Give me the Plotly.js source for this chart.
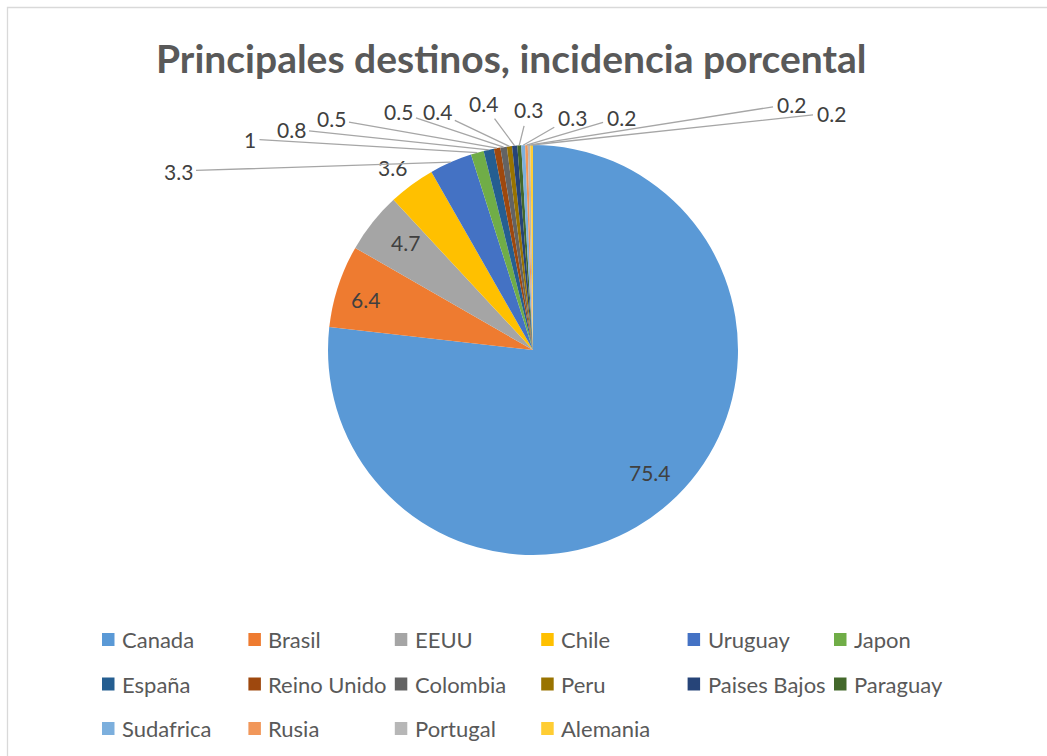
<!DOCTYPE html>
<html>
<head>
<meta charset="utf-8">
<script src="https://cdn.plot.ly/plotly-3.0.1.min.js"></script>
<style>
html,body{margin:0;padding:0;background:#fff;}
#chart{width:1047px;height:756px;}
</style>
</head>
<body>
<div id="chart"></div>
<script>
// ---- data ----
const categories = ["Canada","Brasil","EEUU","Chile","Uruguay","Japon","España","Reino Unido","Colombia","Peru","Paises Bajos","Paraguay","Sudafrica","Rusia","Portugal","Alemania"];
const values = [75.4, 6.4, 4.7, 3.6, 3.3, 1, 0.8, 0.5, 0.5, 0.4, 0.4, 0.3, 0.3, 0.2, 0.2, 0.2];
const colors = ["#5A99D6","#EE7B30","#A5A5A5","#FFC000","#4472C4","#70AD47","#255E91","#9E480E","#636363","#997300","#264478","#43682B","#7CAFDD","#F1975A","#B7B7B7","#FFCD33"];

// ---- layout constants (pixels) ----
const W = 1047, H = 756;
const CX = 533, CY = 350, R = 205;
// label text centres (pixels); leader=true draws a connector line
const labelPos = [
  [650,472,false],[365,299,false],[405,243,false],[392,167,false],
  [178,171,true],[250,139,true],[291,129,true],[331,119,true],
  [398,112,true],[437,112,true],[483,103,true],[528,110,true],
  [572,117,true],[621,117,true],[791,104,true],[831,113,true]
];

const px = x => x / W;
const py = y => 1 - y / H;

const total = values.reduce((a,b)=>a+b,0);
const annotations = [];
const shapes = [];

// border
shapes.push({type:'rect', xref:'paper', yref:'paper', x0:px(7.5), x1:px(1060), y0:py(7.5), y1:py(770),
  line:{color:'#d9d9d9', width:1.3}, fillcolor:'rgba(0,0,0,0)', layer:'below'});

// title
annotations.push({text:'<b>Principales destinos, incidencia porcental</b>', xref:'paper', yref:'paper',
  x:px(511), y:py(58), xanchor:'center', yanchor:'middle', showarrow:false,
  font:{family:'Lato, sans-serif', size:39, color:'#595959'}});

// data labels
let cum = 0;
values.forEach((v,i)=>{
  const mid = (cum + v/2) / total * 2 * Math.PI;
  cum += v;
  const tipX = CX + R * Math.sin(mid);
  const tipY = CY - R * Math.cos(mid);
  const [lx, ly, leader] = labelPos[i];
  if (leader) {
    annotations.push({text:String(v), xref:'paper', yref:'paper', x:px(tipX), y:py(tipY),
      axref:'pixel', ayref:'pixel', ax:lx - tipX, ay:ly - tipY, showarrow:true, arrowhead:0,
      arrowwidth:1.3, arrowcolor:'#a6a6a6', standoff:0, startstandoff:2,
      font:{family:'Lato, sans-serif', size:21, color:'#404040'}});
  } else {
    annotations.push({text:String(v), xref:'paper', yref:'paper', x:px(lx), y:py(ly),
      xanchor:'center', yanchor:'middle', showarrow:false,
      font:{family:'Lato, sans-serif', size:21, color:'#404040'}});
  }
});

// custom legend (6 columns x 3 rows)
categories.forEach((c,i)=>{
  const col = i % 6, row = Math.floor(i / 6);
  const mx = 102 + col * 146.4;
  const my = 639.5 + row * 44.5;
  shapes.push({type:'rect', xref:'paper', yref:'paper', x0:px(mx), x1:px(mx+12.5), y0:py(my-6.5), y1:py(my+6.5),
    fillcolor:colors[i], line:{width:0}});
  annotations.push({text:c, xref:'paper', yref:'paper', x:px(mx+18), y:py(my), xanchor:'left', yanchor:'middle',
    showarrow:false, font:{family:'Lato, sans-serif', size:22, color:'#595959'}});
});

const trace = {
  type:'pie', labels:categories, values:values, sort:false, direction:'clockwise', rotation:0,
  marker:{colors:colors, line:{width:0}}, textinfo:'none', hoverinfo:'label+value',
  domain:{x:[px(CX-R), px(CX+R)], y:[py(CY+R), py(CY-R)]}, showlegend:false
};

const layout = {
  width:W, height:H, margin:{l:0,r:0,t:0,b:0}, paper_bgcolor:'#fff', plot_bgcolor:'#fff',
  showlegend:false, annotations:annotations, shapes:shapes
};

Plotly.newPlot('chart', [trace], layout, {displayModeBar:false, staticPlot:true});
</script>
</body>
</html>
